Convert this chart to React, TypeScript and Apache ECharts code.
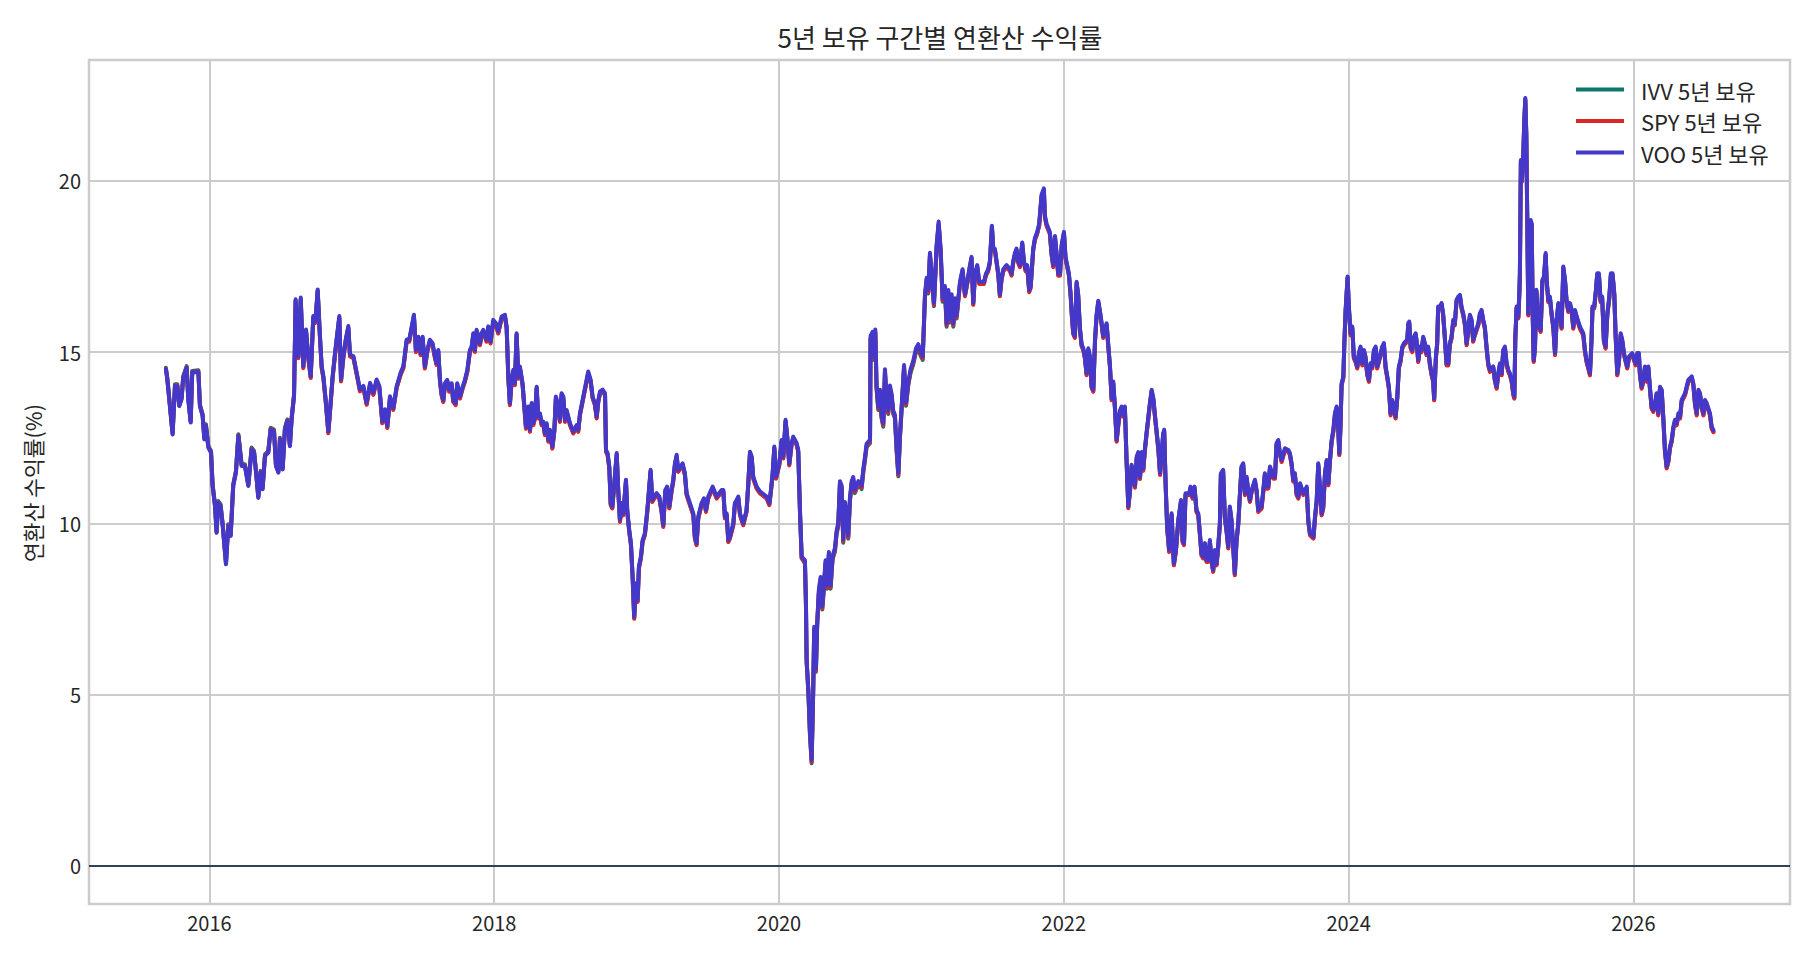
import React, { useEffect, useRef } from 'react';
import * as echarts from 'echarts';

const TITLE = '5년 보유 구간별 연환산 수익률';
const Y_NAME = '연환산 수익률(%)';
const SERIES_NAMES = ['IVV 5년 보유', 'SPY 5년 보유', 'VOO 5년 보유'];
const COLORS = ['#0f766e', '#dc2626', '#4338ca'];
const X_TICKS = [2016, 2018, 2020, 2022, 2024, 2026];
const Y_TICKS = [0, 5, 10, 15, 20];

// decimal years
const T = [
2015.694,2015.704,2015.722,2015.741,2015.758,2015.774,2015.788,2015.804,2015.816,2015.840,
2015.851,2015.868,2015.879,2015.922,2015.933,2015.952,2015.964,2015.975,2015.992,2016.011,
2016.022,2016.039,2016.050,2016.062,2016.078,2016.093,2016.116,2016.132,2016.149,2016.167,
2016.186,2016.203,2016.226,2016.249,2016.273,2016.296,2016.313,2016.327,2016.343,2016.359,
2016.373,2016.390,2016.413,2016.430,2016.453,2016.467,2016.484,2016.495,2016.514,2016.530,
2016.547,2016.565,2016.577,2016.594,2016.605,2016.624,2016.641,2016.659,2016.678,2016.694,
2016.711,2016.729,2016.744,2016.760,2016.776,2016.788,2016.800,2016.816,2016.835,2016.847,
2016.865,2016.882,2016.898,2016.912,2016.924,2016.940,2016.957,2016.975,2016.987,2017.011,
2017.034,2017.057,2017.081,2017.104,2017.128,2017.151,2017.174,2017.193,2017.214,2017.233,
2017.249,2017.268,2017.291,2017.315,2017.343,2017.362,2017.385,2017.403,2017.436,2017.450,
2017.467,2017.483,2017.497,2017.513,2017.530,2017.548,2017.567,2017.584,2017.595,2017.607,
2017.619,2017.630,2017.642,2017.654,2017.670,2017.684,2017.701,2017.712,2017.729,2017.740,
2017.759,2017.778,2017.794,2017.811,2017.829,2017.841,2017.853,2017.864,2017.876,2017.900,
2017.911,2017.923,2017.946,2017.958,2017.974,2017.993,2018.012,2018.028,2018.052,2018.075,
2018.087,2018.099,2018.110,2018.122,2018.134,2018.145,2018.157,2018.169,2018.180,2018.199,
2018.223,2018.239,2018.251,2018.263,2018.274,2018.286,2018.298,2018.309,2018.321,2018.333,
2018.344,2018.356,2018.368,2018.380,2018.391,2018.408,2018.422,2018.433,2018.445,2018.461,
2018.473,2018.485,2018.497,2018.508,2018.532,2018.555,2018.579,2018.590,2018.602,2018.630,
2018.644,2018.660,2018.677,2018.691,2018.707,2018.719,2018.731,2018.743,2018.761,2018.778,
2018.785,2018.796,2018.808,2018.818,2018.829,2018.843,2018.860,2018.871,2018.883,2018.895,
2018.906,2018.925,2018.934,2018.948,2018.960,2018.972,2018.983,2018.995,2019.007,2019.016,
2019.030,2019.042,2019.058,2019.075,2019.098,2019.110,2019.124,2019.140,2019.159,2019.175,
2019.187,2019.201,2019.215,2019.229,2019.245,2019.257,2019.269,2019.281,2019.292,2019.323,
2019.339,2019.351,2019.374,2019.398,2019.409,2019.421,2019.433,2019.456,2019.473,2019.487,
2019.503,2019.534,2019.562,2019.597,2019.609,2019.620,2019.632,2019.644,2019.655,2019.679,
2019.690,2019.702,2019.714,2019.726,2019.749,2019.772,2019.784,2019.796,2019.808,2019.819,
2019.843,2019.866,2019.913,2019.932,2019.943,2019.955,2019.967,2019.979,2020.002,2020.018,
2020.030,2020.046,2020.058,2020.072,2020.088,2020.100,2020.124,2020.135,2020.147,2020.159,
2020.182,2020.189,2020.194,2020.206,2020.217,2020.229,2020.240,2020.247,2020.259,2020.268,
2020.280,2020.292,2020.304,2020.315,2020.327,2020.339,2020.350,2020.362,2020.376,2020.393,
2020.404,2020.416,2020.428,2020.440,2020.451,2020.463,2020.475,2020.486,2020.498,2020.510,
2020.521,2020.533,2020.557,2020.580,2020.592,2020.604,2020.615,2020.639,2020.643,2020.657,
2020.667,2020.676,2020.685,2020.697,2020.709,2020.720,2020.732,2020.744,2020.755,2020.767,
2020.779,2020.791,2020.802,2020.814,2020.826,2020.838,2020.849,2020.861,2020.878,2020.892,
2020.908,2020.924,2020.943,2020.962,2020.978,2020.995,2021.009,2021.025,2021.037,2021.048,
2021.060,2021.072,2021.088,2021.107,2021.121,2021.135,2021.149,2021.165,2021.177,2021.189,
2021.200,2021.212,2021.224,2021.236,2021.247,2021.271,2021.289,2021.306,2021.322,2021.336,
2021.352,2021.364,2021.376,2021.392,2021.406,2021.423,2021.439,2021.453,2021.469,2021.481,
2021.495,2021.505,2021.516,2021.528,2021.540,2021.551,2021.563,2021.575,2021.598,2021.622,
2021.633,2021.645,2021.657,2021.668,2021.680,2021.692,2021.708,2021.720,2021.732,2021.743,
2021.757,2021.767,2021.785,2021.797,2021.813,2021.827,2021.844,2021.860,2021.867,2021.879,
2021.902,2021.914,2021.926,2021.938,2021.949,2021.961,2021.973,2021.985,2022.001,2022.012,
2022.024,2022.036,2022.048,2022.057,2022.066,2022.078,2022.090,2022.101,2022.113,2022.125,
2022.137,2022.148,2022.160,2022.172,2022.184,2022.195,2022.207,2022.219,2022.230,2022.242,
2022.254,2022.266,2022.277,2022.289,2022.301,2022.312,2022.324,2022.336,2022.347,2022.359,
2022.371,2022.383,2022.394,2022.406,2022.418,2022.429,2022.441,2022.453,2022.465,2022.476,
2022.488,2022.500,2022.512,2022.523,2022.535,2022.547,2022.558,2022.570,2022.582,2022.605,
2022.617,2022.629,2022.640,2022.664,2022.676,
2022.698,2022.705,2022.715,2022.726,2022.740,2022.757,2022.773,2022.787,2022.804,2022.823,
2022.834,2022.844,2022.855,2022.881,2022.890,2022.904,2022.918,2022.932,2022.944,2022.956,
2022.967,2022.979,2022.991,2023.002,2023.014,2023.026,2023.037,2023.049,2023.061,2023.073,
2023.084,2023.096,2023.103,2023.119,2023.131,2023.143,2023.155,2023.166,2023.178,2023.190,
2023.201,2023.213,2023.225,2023.237,2023.248,2023.260,2023.272,2023.284,2023.295,2023.307,
2023.319,2023.342,2023.354,2023.366,2023.389,2023.401,2023.412,2023.424,2023.436,2023.448,
2023.471,2023.483,2023.494,2023.506,2023.518,2023.530,2023.553,2023.577,2023.588,2023.600,
2023.612,2023.623,2023.635,2023.647,2023.659,2023.682,2023.706,2023.717,2023.729,2023.753,
2023.764,2023.776,2023.787,2023.799,2023.811,2023.822,2023.834,2023.846,2023.858,2023.869,
2023.881,2023.893,2023.904,2023.916,2023.928,2023.935,2023.942,2023.951,2023.963,2023.970,
2023.979,2023.993,2024.002,2024.014,2024.026,2024.037,2024.049,2024.061,2024.072,2024.084,
2024.096,2024.108,2024.119,2024.131,2024.143,2024.154,2024.166,2024.178,2024.190,2024.201,
2024.213,2024.236,2024.248,2024.260,2024.272,2024.283,2024.295,2024.307,2024.318,2024.330,
2024.342,2024.353,2024.365,2024.377,2024.389,2024.412,2024.419,2024.426,2024.436,2024.447,
2024.459,2024.471,
2024.477,2024.489,2024.501,2024.512,2024.524,2024.536,2024.547,2024.559,2024.571,2024.583,
2024.594,2024.601,2024.613,2024.622,2024.629,2024.641,2024.653,2024.664,2024.676,2024.688,
2024.700,2024.711,2024.723,2024.735,2024.746,2024.758,2024.770,2024.782,2024.793,2024.805,
2024.817,2024.829,2024.840,2024.852,2024.864,2024.875,2024.887,2024.911,2024.922,2024.934,
2024.946,2024.957,2024.969,2024.981,2024.993,2025.016,2025.028,2025.040,2025.051,2025.063,
2025.075,2025.086,2025.098,2025.110,2025.122,2025.133,2025.145,2025.157,2025.164,2025.171,
2025.180,2025.192,2025.199,2025.203,2025.210,2025.217,2025.227,2025.234,2025.241,2025.248,
2025.255,2025.262,2025.269,2025.278,2025.286,2025.293,2025.300,2025.309,2025.319,2025.328,
2025.340,2025.349,2025.361,2025.372,2025.384,2025.391,2025.403,2025.414,2025.426,2025.438,
2025.450,2025.461,2025.473,2025.485,2025.496,2025.508,2025.520,2025.531,2025.543,2025.555,
2025.567,2025.578,2025.590,2025.602,2025.625,
2025.648,2025.660,2025.671,2025.683,2025.695,2025.706,2025.713,2025.725,2025.737,2025.746,
2025.758,2025.770,2025.781,2025.793,2025.805,2025.817,2025.831,2025.842,2025.854,2025.866,
2025.875,2025.887,2025.899,2025.911,2025.922,2025.934,2025.957,2025.969,2025.992,2026.016,
2026.027,2026.039,2026.046,2026.058,2026.070,2026.081,2026.093,2026.105,2026.116,2026.128,
2026.140,2026.152,2026.163,2026.175,2026.187,2026.199,2026.210,2026.222,2026.234,2026.246,
2026.257,2026.269,2026.281,2026.292,2026.304,2026.316,2026.328,2026.339,2026.363,2026.374,
2026.386,2026.410,2026.421,2026.433,2026.445,2026.457,2026.468,2026.480,2026.492,2026.503,
2026.515,2026.538,2026.550,2026.562,
];

const VOO = [
14.49,14.20,13.42,12.59,14.01,14.01,13.42,13.62,14.25,14.54,
13.62,12.94,14.40,14.42,13.42,13.13,12.45,12.84,12.21,12.06,
11.09,10.50,9.72,10.60,10.50,9.92,8.80,9.92,9.63,11.09,
11.48,12.55,11.67,11.67,11.09,12.16,12.06,11.48,10.74,11.48,
10.99,11.96,12.06,12.74,12.69,11.67,11.48,12.45,11.57,12.74,
12.98,12.25,13.03,13.71,16.54,14.88,16.59,14.59,15.66,14.88,
14.30,16.05,15.91,16.83,15.47,14.59,14.30,13.62,12.69,13.33,
14.30,14.98,15.56,16.05,14.20,14.88,15.37,15.76,14.93,14.88,
14.40,13.91,14.01,13.52,14.10,13.81,14.20,14.01,12.98,13.33,
12.84,13.71,13.37,14.01,14.40,14.59,15.37,15.36,16.09,15.06,
15.45,14.97,15.45,14.58,15.06,15.36,15.26,14.87,14.68,15.06,
14.19,13.80,13.60,14.09,14.19,13.90,14.09,13.60,13.51,14.09,
13.70,13.99,14.19,14.48,15.06,15.16,15.55,15.06,15.65,15.26,
15.55,15.65,15.36,15.75,15.31,15.94,15.84,15.60,16.04,16.09,
15.75,14.28,13.51,14.19,14.48,14.09,15.55,14.28,14.58,14.09,
12.82,13.41,12.73,13.51,12.92,13.12,13.99,13.12,13.21,12.92,
12.97,12.63,12.92,12.44,12.73,12.24,12.73,13.70,13.51,13.02,
13.80,13.70,13.02,13.31,12.92,12.68,12.87,12.73,13.21,13.80,
14.09,14.43,14.19,13.70,13.51,13.12,13.60,13.85,13.90,13.80,
12.14,12.05,11.66,10.59,10.49,11.17,12.05,10.97,10.10,10.59,
10.29,11.27,10.39,9.81,9.42,8.44,7.27,8.25,7.76,8.74,
9.03,9.51,9.71,10.39,11.56,10.68,10.78,10.88,10.78,10.39,
9.95,10.97,11.07,10.49,10.97,11.27,11.75,12.00,11.56,11.75,
11.46,10.88,10.59,10.29,9.61,9.42,10.20,10.59,10.73,10.39,
10.78,11.07,10.78,10.97,10.97,10.20,10.29,9.51,9.61,10.00,
10.59,10.68,10.78,10.29,10.00,10.39,11.17,12.09,11.95,11.36,
11.07,10.93,10.78,10.59,10.97,11.46,12.24,11.36,11.75,12.43,
11.95,13.02,12.53,11.75,12.34,12.53,12.34,12.14,10.39,9.03,
8.92,7.71,6.01,5.16,3.94,3.09,5.16,6.98,5.76,7.10,
8.07,8.43,7.58,8.19,8.92,8.19,9.16,8.19,9.04,9.28,
9.77,10.01,11.23,11.10,9.53,10.62,10.25,9.65,10.74,11.23,
11.35,10.98,11.23,11.10,11.59,11.95,12.32,12.44,15.47,15.59,
14.87,15.66,14.02,13.41,13.90,13.17,12.92,14.50,13.65,13.29,
14.02,13.77,13.29,13.17,12.20,11.47,12.56,13.41,14.62,13.53,
14.14,14.50,14.75,15.11,15.23,14.99,14.87,16.69,17.17,16.81,
17.90,17.29,16.44,18.14,18.81,18.02,16.57,16.93,15.84,16.81,
15.96,16.69,15.84,16.57,16.08,17.05,17.42,16.69,17.05,17.42,
17.78,16.44,17.29,17.54,17.05,17.05,17.05,17.29,17.42,17.66,
18.69,18.02,18.02,17.66,17.29,16.69,17.17,17.42,17.54,17.42,
17.29,17.66,17.90,18.02,17.66,17.54,18.20,17.66,17.42,17.54,
16.81,16.93,18.02,18.33,18.51,18.75,19.60,19.78,18.99,18.75,
18.51,17.90,17.54,18.39,17.90,17.29,17.29,18.14,18.51,17.78,
17.54,17.29,16.69,16.08,15.59,15.47,17.05,16.69,15.72,15.23,
15.11,14.87,14.38,15.11,14.87,14.02,13.90,15.35,16.08,16.50,
16.20,15.84,15.47,15.72,15.84,15.23,14.62,13.65,14.14,13.41,
12.44,12.92,13.29,13.41,13.17,13.41,11.83,10.50,10.98,11.71,
11.47,11.10,11.95,12.08,11.35,12.08,11.59,12.20,12.68,13.53,
13.90,13.65,13.17,12.20,11.47,
12.63,12.73,11.17,9.90,9.22,10.29,8.83,9.22,10.10,10.68,
9.51,9.42,10.88,10.88,11.07,10.78,11.07,10.39,10.29,9.71,
9.12,9.03,9.42,8.93,8.93,9.51,8.93,8.64,9.22,8.83,
9.32,10.00,11.46,11.56,10.19,9.81,9.32,10.49,10.10,9.32,
8.54,9.51,10.00,10.88,11.66,11.75,10.88,11.36,10.97,10.68,
10.97,11.27,10.97,10.39,10.49,10.97,11.46,11.07,11.07,11.66,
11.36,11.36,12.34,12.43,12.05,11.85,12.19,12.14,12.05,11.75,
11.27,11.46,10.88,10.78,11.17,10.88,11.07,10.10,9.71,9.61,
10.19,10.68,11.75,11.07,10.29,10.49,11.46,11.85,11.17,11.85,
12.43,12.73,13.21,13.41,12.73,12.05,12.73,14.09,14.29,15.26,
16.23,17.21,16.33,15.55,15.75,14.87,14.77,14.58,14.97,15.16,
14.67,15.06,14.87,14.38,14.19,14.67,14.58,15.06,15.16,14.58,
14.77,15.16,15.26,14.58,14.29,13.99,13.21,13.60,13.41,13.12,
13.70,14.58,14.77,15.16,15.26,15.36,15.84,15.89,15.16,15.06,
15.45,15.55,
15.36,14.77,15.16,15.06,15.45,15.26,14.97,15.16,14.67,14.38,
14.19,13.65,14.87,15.26,16.33,16.33,16.43,16.13,15.45,14.67,
14.67,15.26,15.45,15.94,15.84,16.52,16.62,16.67,16.33,16.13,
15.84,15.26,15.65,16.09,15.94,15.36,15.55,15.84,16.13,16.23,
15.94,15.74,15.16,14.67,14.48,14.58,14.19,13.99,14.38,14.67,
14.38,15.06,15.16,14.67,14.48,14.38,14.19,13.80,13.70,15.45,
16.33,16.04,16.72,17.30,20.61,20.03,20.81,21.78,22.42,21.39,
18.86,16.13,17.69,18.86,18.76,16.13,14.77,15.16,16.82,16.13,
15.74,15.65,17.11,17.20,17.89,17.11,16.52,16.62,16.13,15.74,
14.97,15.94,16.43,16.13,15.74,17.50,17.11,16.52,16.23,16.43,
16.23,15.74,16.23,16.04,15.74,
15.55,15.06,14.77,14.58,14.38,15.36,16.33,16.33,16.82,17.30,
17.30,16.52,16.62,15.36,15.16,16.13,16.62,17.30,17.30,16.72,
15.55,14.38,14.77,15.55,15.36,14.97,14.58,14.87,14.97,14.67,
14.97,14.97,14.38,13.99,14.19,14.58,14.19,14.58,13.99,13.41,
13.31,13.51,13.80,13.21,13.99,13.90,13.12,12.14,11.66,11.85,
12.24,12.43,12.82,13.02,12.92,13.21,13.12,13.60,13.80,13.99,
14.19,14.29,14.09,13.51,13.21,13.90,13.80,13.41,13.21,13.60,
13.51,13.21,12.82,12.72,
];

const SPY = [
14.51,14.22,13.44,12.61,14.03,14.03,13.44,13.64,14.27,14.56,
13.64,12.96,14.42,14.44,13.44,13.15,12.47,12.86,12.23,12.08,
11.11,10.52,9.74,10.62,10.52,9.94,8.82,9.94,9.65,11.11,
11.50,12.57,11.69,11.69,11.11,12.18,12.08,11.50,10.76,11.50,
11.01,11.98,12.08,12.76,12.71,11.69,11.50,12.47,11.59,12.76,
13.00,12.27,13.05,13.73,16.48,14.82,16.53,14.53,15.60,14.82,
14.24,15.99,15.85,16.77,15.41,14.53,14.24,13.56,12.63,13.27,
14.24,14.92,15.50,15.99,14.14,14.82,15.31,15.70,14.87,14.82,
14.34,13.85,13.95,13.46,14.04,13.75,14.14,13.95,12.92,13.27,
12.78,13.65,13.31,13.95,14.34,14.53,15.31,15.30,16.03,15.00,
15.39,14.91,15.39,14.52,15.00,15.30,15.20,14.81,14.62,15.00,
14.13,13.74,13.54,14.03,14.13,13.84,14.03,13.54,13.45,14.03,
13.64,13.93,14.13,14.42,15.00,15.10,15.49,15.00,15.59,15.20,
15.49,15.59,15.30,15.69,15.25,15.88,15.78,15.54,15.98,16.03,
15.69,14.22,13.45,14.13,14.42,14.03,15.49,14.22,14.52,14.03,
12.76,13.35,12.67,13.45,12.86,13.06,13.93,13.06,13.15,12.86,
12.91,12.57,12.86,12.38,12.67,12.18,12.67,13.64,13.45,12.96,
13.74,13.64,12.96,13.25,12.86,12.62,12.81,12.67,13.15,13.74,
14.03,14.37,14.13,13.64,13.45,13.06,13.54,13.79,13.84,13.74,
12.08,11.99,11.60,10.53,10.43,11.11,11.99,10.91,10.04,10.53,
10.23,11.21,10.33,9.75,9.36,8.38,7.21,8.19,7.70,8.68,
8.97,9.45,9.65,10.33,11.50,10.62,10.72,10.82,10.72,10.33,
9.89,10.91,11.01,10.43,10.91,11.21,11.69,11.94,11.50,11.69,
11.40,10.82,10.53,10.23,9.55,9.36,10.14,10.53,10.67,10.33,
10.72,11.01,10.72,10.91,10.91,10.14,10.23,9.45,9.55,9.94,
10.53,10.62,10.72,10.23,9.94,10.33,11.11,12.03,11.89,11.30,
11.01,10.87,10.72,10.53,10.91,11.40,12.18,11.30,11.69,12.37,
11.89,12.96,12.47,11.69,12.28,12.47,12.28,12.08,10.33,8.97,
8.86,7.65,5.95,5.10,3.88,3.03,5.10,6.92,5.70,7.04,
8.01,8.37,7.52,8.13,8.86,8.13,9.10,8.13,8.98,9.22,
9.71,9.95,11.17,11.04,9.47,10.56,10.19,9.59,10.68,11.17,
11.29,10.92,11.17,11.04,11.53,11.89,12.26,12.38,15.41,15.53,
14.81,15.60,13.96,13.35,13.84,13.11,12.86,14.44,13.59,13.23,
13.96,13.71,13.23,13.11,12.14,11.41,12.50,13.35,14.56,13.47,
14.08,14.44,14.69,15.05,15.17,14.93,14.81,16.63,17.11,16.75,
17.84,17.23,16.38,18.08,18.75,17.96,16.51,16.87,15.78,16.75,
15.90,16.63,15.78,16.51,16.02,16.99,17.36,16.63,16.99,17.36,
17.72,16.38,17.23,17.48,16.99,16.99,16.99,17.23,17.36,17.60,
18.63,17.96,17.96,17.60,17.23,16.63,17.11,17.36,17.48,17.36,
17.23,17.60,17.84,17.96,17.60,17.48,18.14,17.60,17.36,17.48,
16.75,16.87,17.96,18.27,18.45,18.69,19.54,19.72,18.93,18.69,
18.45,17.84,17.48,18.33,17.84,17.23,17.23,18.08,18.45,17.72,
17.48,17.23,16.63,16.02,15.53,15.41,16.99,16.63,15.66,15.17,
15.05,14.81,14.32,15.05,14.81,13.96,13.84,15.29,16.02,16.44,
16.14,15.78,15.41,15.66,15.78,15.17,14.56,13.59,14.08,13.35,
12.38,12.86,13.23,13.35,13.11,13.35,11.77,10.44,10.92,11.65,
11.41,11.04,11.89,12.02,11.29,12.02,11.53,12.14,12.62,13.47,
13.84,13.59,13.11,12.14,11.41,
12.57,12.67,11.11,9.84,9.16,10.23,8.77,9.16,10.04,10.62,
9.45,9.36,10.82,10.82,11.01,10.72,11.01,10.33,10.23,9.65,
9.06,8.97,9.36,8.87,8.87,9.45,8.87,8.58,9.16,8.77,
9.26,9.94,11.40,11.50,10.13,9.75,9.26,10.43,10.04,9.26,
8.48,9.45,9.94,10.82,11.60,11.69,10.82,11.30,10.91,10.62,
10.91,11.21,10.91,10.33,10.43,10.91,11.40,11.01,11.01,11.60,
11.30,11.30,12.28,12.37,11.99,11.79,12.13,12.08,11.99,11.69,
11.21,11.40,10.82,10.72,11.11,10.82,11.01,10.04,9.65,9.55,
10.13,10.62,11.69,11.01,10.23,10.43,11.40,11.79,11.11,11.79,
12.37,12.67,13.15,13.35,12.67,11.99,12.67,14.03,14.23,15.20,
16.17,17.15,16.27,15.49,15.69,14.81,14.71,14.52,14.91,15.10,
14.61,15.00,14.81,14.32,14.13,14.61,14.52,15.00,15.10,14.52,
14.71,15.10,15.20,14.52,14.23,13.93,13.15,13.54,13.35,13.06,
13.64,14.52,14.71,15.10,15.20,15.30,15.78,15.83,15.10,15.00,
15.39,15.49,
15.30,14.71,15.10,15.00,15.39,15.20,14.91,15.10,14.61,14.32,
14.13,13.59,14.81,15.20,16.27,16.27,16.37,16.07,15.39,14.61,
14.61,15.20,15.39,15.88,15.78,16.46,16.56,16.61,16.27,16.07,
15.78,15.20,15.59,16.03,15.88,15.30,15.49,15.78,16.07,16.17,
15.88,15.68,15.10,14.61,14.42,14.52,14.13,13.93,14.32,14.61,
14.32,15.00,15.10,14.61,14.42,14.32,14.13,13.74,13.64,15.39,
16.27,15.98,16.66,17.24,20.55,19.97,20.75,21.72,22.36,21.33,
18.80,16.07,17.63,18.80,18.70,16.07,14.71,15.10,16.76,16.07,
15.68,15.59,17.05,17.14,17.83,17.05,16.46,16.56,16.07,15.68,
14.91,15.88,16.37,16.07,15.68,17.44,17.05,16.46,16.17,16.37,
16.17,15.68,16.17,15.98,15.68,
15.49,15.00,14.71,14.52,14.32,15.30,16.27,16.27,16.76,17.24,
17.24,16.46,16.56,15.30,15.10,16.07,16.56,17.24,17.24,16.66,
15.49,14.32,14.71,15.49,15.30,14.91,14.52,14.81,14.91,14.61,
14.91,14.91,14.32,13.93,14.13,14.52,14.13,14.52,13.93,13.35,
13.25,13.45,13.74,13.15,13.93,13.84,13.06,12.08,11.60,11.79,
12.18,12.37,12.76,12.96,12.86,13.15,13.06,13.54,13.74,13.93,
14.13,14.23,14.03,13.45,13.15,13.84,13.74,13.35,13.15,13.54,
13.45,13.15,12.76,12.66,
];

const IVV = [
14.54,14.25,13.47,12.64,14.06,14.06,13.47,13.67,14.30,14.59,
13.67,12.99,14.45,14.47,13.47,13.18,12.50,12.89,12.26,12.11,
11.14,10.55,9.77,10.65,10.55,9.97,8.85,9.97,9.68,11.14,
11.53,12.60,11.72,11.72,11.14,12.21,12.11,11.53,10.79,11.53,
11.04,12.01,12.11,12.79,12.74,11.72,11.53,12.50,11.62,12.79,
13.03,12.30,13.08,13.76,16.50,14.84,16.55,14.55,15.62,14.84,
14.26,16.01,15.87,16.79,15.43,14.55,14.26,13.58,12.65,13.29,
14.26,14.94,15.52,16.01,14.16,14.84,15.33,15.72,14.89,14.84,
14.36,13.87,13.97,13.48,14.06,13.77,14.16,13.97,12.94,13.29,
12.80,13.67,13.33,13.97,14.36,14.55,15.33,15.32,16.05,15.02,
15.41,14.93,15.41,14.54,15.02,15.32,15.22,14.83,14.64,15.02,
14.15,13.76,13.56,14.05,14.15,13.86,14.05,13.56,13.47,14.05,
13.66,13.95,14.15,14.44,15.02,15.12,15.51,15.02,15.61,15.22,
15.51,15.61,15.32,15.71,15.27,15.90,15.80,15.56,16.00,16.05,
15.71,14.24,13.47,14.15,14.44,14.05,15.51,14.24,14.54,14.05,
12.78,13.37,12.69,13.47,12.88,13.08,13.95,13.08,13.17,12.88,
12.93,12.59,12.88,12.40,12.69,12.20,12.69,13.66,13.47,12.98,
13.76,13.66,12.98,13.27,12.88,12.64,12.83,12.69,13.17,13.76,
14.05,14.39,14.15,13.66,13.47,13.08,13.56,13.81,13.86,13.76,
12.10,12.01,11.62,10.55,10.45,11.13,12.01,10.93,10.06,10.55,
10.25,11.23,10.35,9.77,9.38,8.40,7.23,8.21,7.72,8.70,
8.99,9.47,9.67,10.35,11.52,10.64,10.74,10.84,10.74,10.35,
9.91,10.93,11.03,10.45,10.93,11.23,11.71,11.96,11.52,11.71,
11.42,10.84,10.55,10.25,9.57,9.38,10.16,10.55,10.69,10.35,
10.74,11.03,10.74,10.93,10.93,10.16,10.25,9.47,9.57,9.96,
10.55,10.64,10.74,10.25,9.96,10.35,11.13,12.05,11.91,11.32,
11.03,10.89,10.74,10.55,10.93,11.42,12.20,11.32,11.71,12.39,
11.91,12.98,12.49,11.71,12.30,12.49,12.30,12.10,10.35,8.99,
8.82,7.61,5.91,5.06,3.84,2.99,5.06,6.88,5.66,7.00,
7.97,8.33,7.48,8.09,8.82,8.09,9.06,8.09,8.94,9.18,
9.67,9.91,11.13,11.00,9.43,10.52,10.15,9.55,10.64,11.13,
11.25,10.88,11.13,11.00,11.49,11.85,12.22,12.34,15.37,15.49,
14.77,15.56,13.92,13.31,13.80,13.07,12.82,14.40,13.55,13.19,
13.92,13.67,13.19,13.07,12.10,11.37,12.46,13.31,14.52,13.43,
14.04,14.40,14.65,15.01,15.13,14.89,14.77,16.59,17.07,16.71,
17.80,17.19,16.34,18.04,18.71,17.92,16.47,16.83,15.74,16.71,
15.86,16.59,15.74,16.47,15.98,17.01,17.38,16.65,17.01,17.38,
17.74,16.40,17.25,17.50,17.01,17.01,17.01,17.25,17.38,17.62,
18.65,17.98,17.98,17.62,17.25,16.65,17.13,17.38,17.50,17.38,
17.25,17.62,17.86,17.98,17.62,17.50,18.16,17.62,17.38,17.50,
16.77,16.89,17.98,18.29,18.47,18.71,19.56,19.74,18.95,18.71,
18.47,17.86,17.50,18.35,17.86,17.25,17.25,18.10,18.47,17.74,
17.50,17.25,16.65,16.04,15.55,15.43,17.01,16.65,15.68,15.19,
15.07,14.83,14.34,15.07,14.83,13.98,13.86,15.31,16.04,16.46,
16.16,15.80,15.43,15.68,15.80,15.19,14.58,13.61,14.10,13.37,
12.40,12.88,13.25,13.37,13.13,13.37,11.79,10.46,10.94,11.67,
11.43,11.06,11.91,12.04,11.31,12.04,11.55,12.16,12.64,13.49,
13.86,13.61,13.13,12.16,11.43,
12.59,12.69,11.13,9.86,9.18,10.25,8.79,9.18,10.06,10.64,
9.47,9.38,10.84,10.84,11.03,10.74,11.03,10.35,10.25,9.67,
9.08,8.99,9.38,8.89,8.89,9.47,8.89,8.60,9.18,8.79,
9.28,9.96,11.42,11.52,10.15,9.77,9.28,10.45,10.06,9.28,
8.50,9.47,9.96,10.84,11.62,11.71,10.84,11.32,10.93,10.64,
10.93,11.23,10.93,10.35,10.45,10.93,11.42,11.03,11.03,11.62,
11.32,11.32,12.30,12.39,12.01,11.81,12.15,12.10,12.01,11.71,
11.23,11.42,10.84,10.74,11.13,10.84,11.03,10.06,9.67,9.57,
10.15,10.64,11.71,11.03,10.25,10.45,11.42,11.81,11.13,11.81,
12.39,12.69,13.17,13.37,12.69,12.01,12.69,14.05,14.25,15.22,
16.19,17.17,16.29,15.51,15.71,14.83,14.73,14.54,14.93,15.12,
14.63,15.02,14.83,14.34,14.15,14.63,14.54,15.02,15.12,14.54,
14.73,15.12,15.22,14.54,14.25,13.95,13.17,13.56,13.37,13.08,
13.66,14.54,14.73,15.12,15.22,15.32,15.80,15.85,15.12,15.02,
15.41,15.51,
15.32,14.73,15.12,15.02,15.41,15.22,14.93,15.12,14.63,14.34,
14.15,13.61,14.83,15.22,16.29,16.29,16.39,16.09,15.41,14.63,
14.63,15.22,15.41,15.90,15.80,16.48,16.58,16.63,16.29,16.09,
15.80,15.22,15.61,16.05,15.90,15.32,15.51,15.80,16.09,16.19,
15.90,15.70,15.12,14.63,14.44,14.54,14.15,13.95,14.34,14.63,
14.34,15.02,15.12,14.63,14.44,14.34,14.15,13.76,13.66,15.41,
16.29,16.00,16.68,17.26,20.57,19.99,20.77,21.74,22.38,21.35,
18.82,16.09,17.65,18.82,18.72,16.09,14.73,15.12,16.78,16.09,
15.70,15.61,17.07,17.16,17.85,17.07,16.48,16.58,16.09,15.70,
14.93,15.90,16.39,16.09,15.70,17.46,17.07,16.48,16.19,16.39,
16.19,15.70,16.19,16.00,15.70,
15.51,15.02,14.73,14.54,14.34,15.32,16.29,16.29,16.78,17.26,
17.26,16.48,16.58,15.32,15.12,16.09,16.58,17.26,17.26,16.68,
15.51,14.34,14.73,15.51,15.32,14.93,14.54,14.83,14.93,14.63,
14.93,14.93,14.34,13.95,14.15,14.54,14.15,14.54,13.95,13.37,
13.27,13.47,13.76,13.17,13.95,13.86,13.08,12.10,11.62,11.81,
12.20,12.39,12.78,12.98,12.88,13.17,13.08,13.56,13.76,13.95,
14.15,14.25,14.05,13.47,13.17,13.86,13.76,13.37,13.17,13.56,
13.47,13.17,12.78,12.68,
];

const X_MIN = 2015.154;
const X_MAX = 2027.1;
const Y_MIN = -1.12;
const Y_MAX = 23.53;

export default function App() {
  const ref = useRef<HTMLDivElement>(null);

  useEffect(() => {
    if (!ref.current) return;
    const chart = echarts.init(ref.current, null, { renderer: 'svg' });
    const FONT = '"Noto Sans CJK KR", "Noto Sans", sans-serif';
    const TEXT = '#262626';
    const mk = (vals: number[]) => {
      const n = Math.min(T.length, vals.length);
      const out: number[][] = [];
      for (let i = 0; i < n; i++) out.push([T[i], vals[i]]);
      return out;
    };
    const seriesVals = [IVV, SPY, VOO];
    const series: any[] = SERIES_NAMES.map((name, i) => ({
      name,
      type: 'line',
      data: mk(seriesVals[i]),
      showSymbol: false,
      symbol: 'none',
      smooth: false,
      lineStyle: { color: COLORS[i], width: 4, cap: 'round', join: 'round' },
      itemStyle: { color: COLORS[i] },
      emphasis: { disabled: true },
      z: 3 + i,
    }));
    series[0].markLine = {
      silent: true,
      symbol: ['none', 'none'],
      label: { show: false },
      lineStyle: { color: '#334155', width: 2, type: 'solid' },
      data: [{ yAxis: 0 }],
      z: 2,
    };

    chart.setOption({
      animation: false,
      backgroundColor: '#ffffff',
      textStyle: { fontFamily: FONT },
      grid: {
        left: 89,
        top: 60,
        right: 25,
        bottom: 53,
        show: true,
        borderColor: '#cccccc',
        borderWidth: 2.5,
        backgroundColor: 'transparent',
      },
      xAxis: {
        type: 'value',
        min: X_MIN,
        max: X_MAX,
        axisLine: { show: false },
        axisTick: { show: false, customValues: X_TICKS },
        axisLabel: {
          customValues: X_TICKS,
          formatter: (v: number) => String(Math.round(v)),
          color: TEXT,
          fontSize: 20,
          margin: 8,
          fontFamily: FONT,
        },
        splitLine: { show: true, lineStyle: { color: '#cccccc', width: 2 } },
      },
      yAxis: {
        type: 'value',
        min: Y_MIN,
        max: Y_MAX,
        axisLine: { show: false },
        axisTick: { show: false, customValues: Y_TICKS },
        axisLabel: {
          customValues: Y_TICKS,
          formatter: (v: number) => String(Math.round(v)),
          color: TEXT,
          fontSize: 20,
          margin: 8,
          fontFamily: FONT,
        },
        splitLine: { show: true, lineStyle: { color: '#cccccc', width: 2 } },
      },
      legend: {
        orient: 'vertical',
        left: 1576,
        top: 77,
        padding: 0,
        itemWidth: 48,
        itemHeight: 4,
        itemGap: 6.5,
        icon: 'rect',
        selectedMode: false,
        data: SERIES_NAMES,
        textStyle: {
          fontSize: 22,
          color: TEXT,
          lineHeight: 25,
          fontFamily: FONT,
          padding: [0, 0, 0, 12],
        },
      },
      graphic: [
        {
          type: 'text',
          x: 940,
          y: 36,
          style: {
            text: TITLE,
            fontSize: 26,
            fontFamily: FONT,
            fill: TEXT,
            align: 'center',
            verticalAlign: 'middle',
            textAlign: 'center',
            textVerticalAlign: 'middle',
          },
        },
        {
          type: 'text',
          x: 32,
          y: 483,
          rotation: Math.PI / 2,
          style: {
            text: Y_NAME,
            fontSize: 21.5,
            fontFamily: FONT,
            fill: TEXT,
            align: 'center',
            verticalAlign: 'middle',
            textAlign: 'center',
            textVerticalAlign: 'middle',
          },
        },
      ],
      series,
    });
    return () => chart.dispose();
  }, []);

  return (
    <div
      ref={ref}
      style={{ position: 'fixed', left: 0, top: 0, width: 1815, height: 957 }}
    />
  );
}
